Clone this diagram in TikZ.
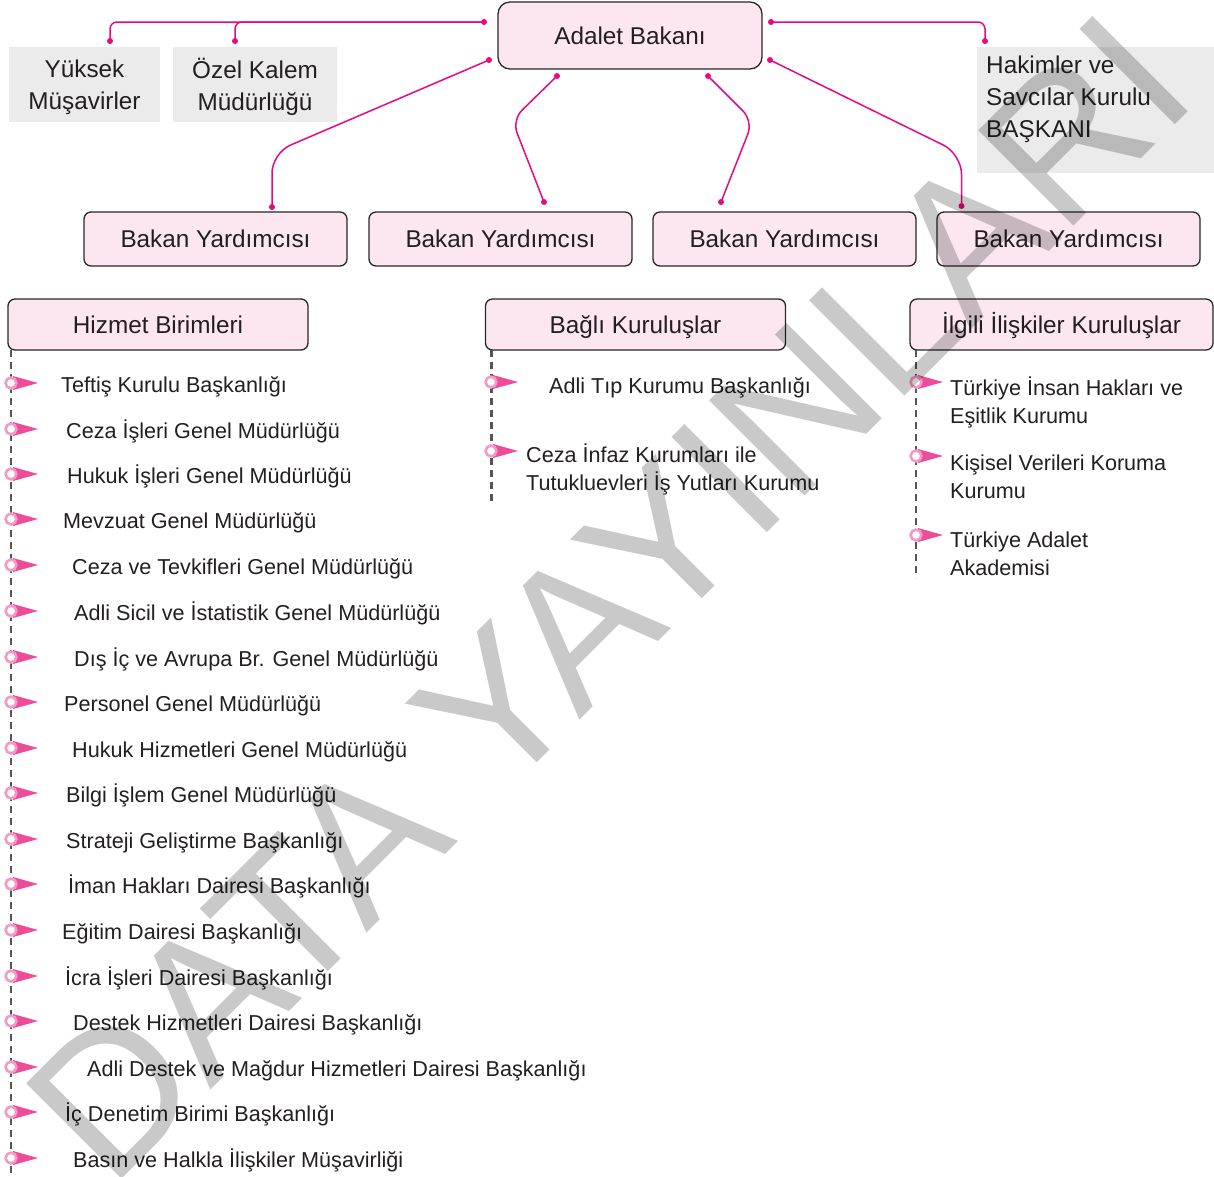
\documentclass[tikz,border=0pt]{standalone}
\usepackage{fontspec}
\setmainfont{Liberation Sans}
\usetikzlibrary{calc}

\definecolor{boxpink}{RGB}{252,231,240}
\definecolor{boxgrey}{RGB}{235,235,236}
\definecolor{boxline}{RGB}{40,40,40}
\definecolor{linkpink}{RGB}{230,10,128}
\definecolor{markpink}{RGB}{237,76,154}
\definecolor{ringpink}{RGB}{244,154,196}
\definecolor{textdark}{RGB}{35,31,32}
\definecolor{dashgrey}{RGB}{85,85,85}

\def\itemmark(#1,#2){\fill[markpink] (#1+2,#2-7) -- (#1+27,#2) -- (#1+2,#2+7) -- cycle;
	\draw[ringpink, line width=2.6pt, fill=white] (#1,#2) circle (5.4);}

\tikzset{
	mainbox/.style={draw=boxline, fill=boxpink, line width=1.3pt, outer sep=0pt, inner sep=0pt, text=textdark, text height=17.4pt, text depth=0pt, font=\fontsize{24.3}{32}\selectfont},
	bakanbox/.style={mainbox, rounded corners=12pt, minimum width=264pt, minimum height=67pt},
	yardbox/.style={mainbox, rounded corners=7pt, minimum width=263pt, minimum height=54pt},
	headbox/.style={mainbox, rounded corners=7pt, minimum width=#1, minimum height=51pt},
	greybox/.style={fill=boxgrey, outer sep=0pt, inner sep=0pt, align=center, text=textdark, text depth=0pt, font=\fontsize{24.3}{32}\selectfont},
	link/.style={draw=linkpink, line width=1.5pt},
	dashline/.style={draw=dashgrey, line width=2.5pt, dash pattern=on 7pt off 5pt},
	item/.style={anchor=base west, inner sep=0pt, align=left, text=textdark, font=\fontsize{21.6}{28}\selectfont},
	wmark/.style={text=black, opacity=0.21, rotate=45, inner sep=0pt, font=\fontsize{196}{196}\selectfont}
}

\begin{document}
\begin{tikzpicture}[x=1pt, y=-1pt]
			%%%%% START %%%%%
			\useasboundingbox (0,0) rectangle (1214,1176);
			
			\node[bakanbox] (bakan) at (630,35.5) {Adalet Bakanı};
			
			\node[greybox, minimum width=151pt, minimum height=75pt] (musavir) at (84.5,84.5) {Yüksek\\Müşavirler};
			\node[greybox, minimum width=164pt, minimum height=75pt] (kalem) at (255,84.5) {Özel Kalem\\Müdürlüğü};
			\node[greybox, minimum width=237pt, minimum height=126pt, anchor=north west] (hsk) at (977,47) {};
			\node[item, font=\fontsize{24.3}{32}\selectfont] (hsktext) at (986,137.7) {Hakimler ve\\Savcılar Kurulu\\BAŞKANI};
			
			\node[yardbox] (yard1) at (215.5,239) {Bakan Yardımcısı};
			\node[yardbox] (yard2) at (500.5,239) {Bakan Yardımcısı};
			\node[yardbox] (yard3) at (784.5,239) {Bakan Yardımcısı};
			\node[yardbox] (yard4) at (1068.5,239) {Bakan Yardımcısı};
			
			\node[headbox=300pt] (hizmet) at (158,324.5) {Hizmet Birimleri};
			\node[headbox=300pt] (bagli) at (635.5,324.5) {Bağlı Kuruluşlar};
			\node[headbox=303pt] (ilgili) at (1061.5,324.5) {İlgili İlişkiler Kuruluşlar};
			
			% connector ends
			\coordinate (dA) at ($(bakan.west)+(-14,-13.5)$);
			\coordinate (dYM) at ($(musavir.north)+(25.5,-6)$);
			\coordinate (dOK) at ($(kalem.north)+(-20,-6)$);
			\coordinate (dB) at ($(bakan.east)+(9,-13.5)$);
			\coordinate (dH) at ($(hsk.north west)+(8,-6)$);
			\coordinate (dC) at ($(bakan.south west)+(-9,-9)$);
			\coordinate (dY1) at ($(yard1.north)+(56.5,-5)$);
			\coordinate (dD) at ($(bakan.south)+(-73,7)$);
			\coordinate (dY2) at ($(yard2.north)+(43.5,-10)$);
			\coordinate (dE) at ($(bakan.south)+(78,7)$);
			\coordinate (dY3) at ($(yard3.north)+(-63.5,-10)$);
			\coordinate (dF) at ($(bakan.south east)+(8,-9)$);
			\coordinate (dY4) at ($(yard4.north)+(-107,-6)$);
			
			\draw[link, rounded corners=7pt] (dA) -| (dYM);
			\draw[link, rounded corners=7pt] (dA) -| (dOK);
			\draw[link, rounded corners=7pt] (dB) -| (dH);
			\draw[link, rounded corners=20pt] (dC) -- ($(dY1)+(0,-54)$) -- (dY1);
			\draw[link, rounded corners=14pt] (dD) -- ($(dY2)+(-32,-82)$) -- (dY2);
			\draw[link, rounded corners=14pt] (dE) -- ($(dY3)+(32,-81)$) -- (dY3);
			\draw[link, rounded corners=20pt] (dF) -- ($(dY4)+(0,-52)$) -- (dY4);
			\fill[linkpink] (dA) circle (3) (dYM) circle (3) (dOK) circle (3) (dB) circle (3) (dH) circle (3)
				(dC) circle (3) (dY1) circle (3) (dD) circle (3) (dY2) circle (3) (dE) circle (3)
				(dY3) circle (3) (dF) circle (3) (dY4) circle (3);
			
			% dashed rails
			\draw[dashline] ($(hizmet.south west)+(3,0)$) -- ++(0,827);
			\draw[dashline] ($(bagli.south west)+(6,0)$) -- ++(0,155);
			\draw[dashline] ($(ilgili.south west)+(6,0)$) -- ++(0,228);
			
			% Hizmet Birimleri
			\itemmark(11,383) \node[item] (h1) at (61,392) {Teftiş Kurulu Başkanlığı};
			\itemmark(11,429) \node[item] (h2) at (66,438) {Ceza İşleri Genel Müdürlüğü};
			\itemmark(11,474) \node[item] (h3) at (67,483) {Hukuk İşleri Genel Müdürlüğü};
			\itemmark(11,519) \node[item] (h4) at (63,528) {Mevzuat Genel Müdürlüğü};
			\itemmark(11,565) \node[item] (h5) at (72,574) {Ceza ve Tevkifleri Genel Müdürlüğü};
			\itemmark(11,611) \node[item] (h6) at (74,620) {Adli Sicil ve İstatistik Genel Müdürlüğü};
			\itemmark(11,657) \node[item] (h7) at (74,666) {Dış İç ve Avrupa Br. Genel Müdürlüğü};
			\itemmark(11,702) \node[item] (h8) at (64,711) {Personel Genel Müdürlüğü};
			\itemmark(11,748) \node[item] (h9) at (72,757) {Hukuk Hizmetleri Genel Müdürlüğü};
			\itemmark(11,793) \node[item] (h10) at (66,802) {Bilgi İşlem Genel Müdürlüğü};
			\itemmark(11,839) \node[item] (h11) at (66,848) {Strateji Geliştirme Başkanlığı};
			\itemmark(11,884) \node[item] (h12) at (68,893) {İman Hakları Dairesi Başkanlığı};
			\itemmark(11,930) \node[item] (h13) at (62,939) {Eğitim Dairesi Başkanlığı};
			\itemmark(11,976) \node[item] (h14) at (65,985) {İcra İşleri Dairesi Başkanlığı};
			\itemmark(11,1021) \node[item] (h15) at (73,1030) {Destek Hizmetleri Dairesi Başkanlığı};
			\itemmark(11,1067) \node[item] (h16) at (87,1076) {Adli Destek ve Mağdur Hizmetleri Dairesi Başkanlığı};
			\itemmark(11,1112) \node[item] (h17) at (65,1121) {İç Denetim Birimi Başkanlığı};
			\itemmark(11,1158) \node[item] (h18) at (73,1167) {Basın ve Halkla İlişkiler Müşavirliği};
			
			% Bagli Kuruluslar
			\itemmark(491,382) \node[item] (b1) at (549,393) {Adli Tıp Kurumu Başkanlığı};
			\itemmark(491,451) \node[item] (b2) at (526,490) {Ceza İnfaz Kurumları ile\\Tutukluevleri İş Yutları Kurumu};
			
			% Ilgili Iliskiler Kuruluslar
			\itemmark(916,382) \node[item] (i1) at (950,423) {Türkiye İnsan Hakları ve\\Eşitlik Kurumu};
			\itemmark(916,456) \node[item] (i2) at (950,498) {Kişisel Verileri Koruma\\Kurumu};
			\itemmark(916,535) \node[item] (i3) at (950,575) {Türkiye Adalet\\Akademisi};
			
			\node[wmark] (wm) at (608,597) {DATA YAYINLARI};
			%%%%% END %%%%%
\end{tikzpicture}
\end{document}
